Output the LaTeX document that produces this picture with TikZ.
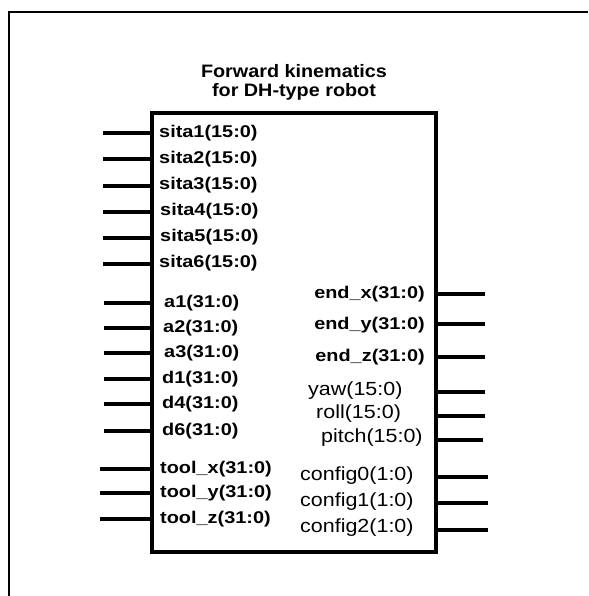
\documentclass[tikz,border=0pt]{standalone}
\usepackage{fontspec}
\usepackage{graphicx}
\setmainfont{Liberation Sans}
\newcommand{\sx}[2]{\scalebox{#1}[1]{#2}}
\newcommand{\bl}[1]{\sx{1.17}{\fontsize{17pt}{19pt}\selectfont\bfseries #1}}
\newcommand{\rl}[1]{\sx{1.13}{\fontsize{19pt}{21pt}\selectfont #1}}
\newcommand{\tl}[1]{\sx{1.1}{\fontsize{18pt}{20pt}\selectfont\bfseries #1}}
\begin{document}
\begin{tikzpicture}[x=1pt,y=-1pt,
  frame/.style={line width=2.2pt},
  blockbox/.style={draw, line width=4pt, inner sep=0pt, minimum width=284pt, minimum height=439pt},
  pin/.style={line width=4pt},
  lbl/.style={inner sep=0pt}]
\useasboundingbox (0,0) rectangle (588,596);
% outer frame
\coordinate (fA) at (9,596);
\coordinate (fB) at (9,12);
\coordinate (fC) at (588,12);
\draw[frame] (fA) -- (fB) -- (fC);
% title
\node[lbl] (t1) at (294,71) {\tl{Forward kinematics}};
\node[lbl] (t2) at (294,92) {\tl{for DH-type robot}};
% block
\node[blockbox] (box) at (294,332.5) {};
% left pins
\foreach \n/\y/\x in {s1/133.5/103, s2/159.5/103, s3/185.5/103, s4/211.5/103, s5/237.5/103, s6/263.5/103,
  a1/303/104, a2/328/104, a3/353/104, d1/379/104, d4/404/104, d6/431/104,
  tx/469/100, ty/493/100, tz/519/100}{
  \coordinate (p\n) at (\x,\y);
  \draw[pin] (p\n) -- (p\n -| box.west);
}
% left labels
\node[lbl, anchor=west] (ls1) at (159,133.5) {\bl{sita1(15:0)}};
\node[lbl, anchor=west] (ls2) at (159,159.5) {\bl{sita2(15:0)}};
\node[lbl, anchor=west] (ls3) at (159,185.5) {\bl{sita3(15:0)}};
\node[lbl, anchor=west] (ls4) at (160,211.5) {\bl{sita4(15:0)}};
\node[lbl, anchor=west] (ls5) at (160,237.5) {\bl{sita5(15:0)}};
\node[lbl, anchor=west] (ls6) at (159,263.5) {\bl{sita6(15:0)}};
\node[lbl, anchor=west] (la1) at (164,303) {\bl{a1(31:0)}};
\node[lbl, anchor=west] (la2) at (163,328) {\bl{a2(31:0)}};
\node[lbl, anchor=west] (la3) at (164,353) {\bl{a3(31:0)}};
\node[lbl, anchor=west] (ld1) at (162,379) {\bl{d1(31:0)}};
\node[lbl, anchor=west] (ld4) at (162,404) {\bl{d4(31:0)}};
\node[lbl, anchor=west] (ld6) at (162,431) {\bl{d6(31:0)}};
\node[lbl, anchor=west] (ltx) at (160,469) {\bl{tool\_x(31:0)}};
\node[lbl, anchor=west] (lty) at (160,493) {\bl{tool\_y(31:0)}};
\node[lbl, anchor=west] (ltz) at (160,519) {\bl{tool\_z(31:0)}};
% right pins
\foreach \n/\y/\x in {ex/294/485, ey/324/485, ez/357/485, yw/392/485, rl/416/485, pt/440/483,
  c0/477/488, c1/503/488, c2/530/488}{
  \coordinate (q\n) at (\x,\y);
  \draw[pin] (q\n -| box.east) -- (q\n);
}
% right labels
\node[lbl, anchor=east] (rex) at (425,294) {\bl{end\_x(31:0)}};
\node[lbl, anchor=east] (rey) at (425,325) {\bl{end\_y(31:0)}};
\node[lbl, anchor=east] (rez) at (425,357) {\bl{end\_z(31:0)}};
\node[lbl, anchor=west] (ryw) at (308,391) {\rl{yaw(15:0)}};
\node[lbl, anchor=west] (rrl) at (316,414) {\rl{roll(15:0)}};
\node[lbl, anchor=west] (rpt) at (321,438) {\rl{pitch(15:0)}};
\node[lbl, anchor=west] (rc0) at (300,476) {\rl{config0(1:0)}};
\node[lbl, anchor=west] (rc1) at (300,502) {\rl{config1(1:0)}};
\node[lbl, anchor=west] (rc2) at (300,528) {\rl{config2(1:0)}};
\end{tikzpicture}
\end{document}
